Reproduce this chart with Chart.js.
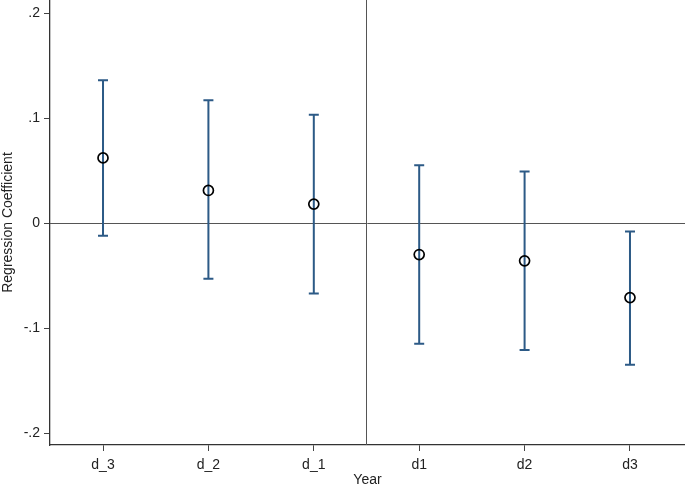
<!DOCTYPE html>
<html>
<head>
<meta charset="utf-8">
<script src="https://cdn.jsdelivr.net/npm/chart.js@4"></script>
<style>
  html, body { margin: 0; padding: 0; background: #fff; }
  canvas { display: block; }
</style>
</head>
<body>
<canvas id="coefplot" width="685" height="487"></canvas>
<script>
// event-time labels and estimates
const periods = ['d_3', 'd_2', 'd_1', 'd1', 'd2', 'd3'];
const coef = [0.062, 0.031, 0.018, -0.030, -0.036, -0.071];
const ciLow = [-0.012, -0.053, -0.067, -0.115, -0.121, -0.135];
const ciHigh = [0.136, 0.117, 0.103, 0.055, 0.049, -0.008];
const yTicks = [-0.2, -0.1, 0, 0.1, 0.2];

const barColor = '#2c5a86';

const fmtY = (v) => {
  if (Math.abs(v) < 1e-9) return '0';
  return (v < 0 ? '-' : '') + String(Math.abs(v)).replace(/^0/, '');
};

// whiskers + the two reference lines, drawn via the chart's scales
const refLines = {
  id: 'refLines',
  beforeDatasetsDraw(chart) {
    const { ctx, chartArea: a, scales: { x, y } } = chart;
    ctx.save();
    ctx.strokeStyle = '#555';
    ctx.lineWidth = 1;
    const y0 = Math.round(y.getPixelForValue(0)) + 0.5;
    ctx.beginPath();
    ctx.moveTo(a.left, y0);
    ctx.lineTo(a.right, y0);
    const xv = Math.round(x.getPixelForValue(3.5)) + 0.5;
    ctx.moveTo(xv, a.top);
    ctx.lineTo(xv, a.bottom);
    ctx.stroke();

    ctx.strokeStyle = barColor;
    ctx.lineWidth = 2;
    periods.forEach((p, i) => {
      const px = x.getPixelForValue(i + 1);
      const lo = y.getPixelForValue(ciLow[i]);
      const hi = y.getPixelForValue(ciHigh[i]);
      ctx.beginPath();
      ctx.moveTo(px, lo);
      ctx.lineTo(px, hi);
      ctx.moveTo(px - 5, lo);
      ctx.lineTo(px + 5, lo);
      ctx.moveTo(px - 5, hi);
      ctx.lineTo(px + 5, hi);
      ctx.stroke();
    });
    ctx.restore();
  }
};

const canvas = document.getElementById('coefplot');
const ctx = canvas.getContext('2d');

new Chart(ctx, {
  type: 'scatter',
  plugins: [refLines],
  data: {
    datasets: [{
      label: 'coef',
      data: coef.map((v, i) => ({ x: i + 1, y: v })),
      pointStyle: 'circle',
      pointRadius: 5,
      pointHoverRadius: 5,
      borderColor: '#000',
      borderWidth: 1.7,
      backgroundColor: 'rgba(0,0,0,0)'
    }]
  },
  options: {
    responsive: false,
    animation: false,
    maintainAspectRatio: false,
    layout: { autoPadding: false, padding: { top: 0, right: 0, left: 0, bottom: 0 } },
    plugins: {
      legend: { display: false },
      tooltip: { enabled: false }
    },
    scales: {
      x: {
        type: 'linear',
        min: 0.497,
        max: 6.522,
        afterBuildTicks: (s) => { s.ticks = periods.map((p, i) => ({ value: i + 1 })); },
        afterFit: (s) => { s.height = 42; s.paddingLeft = 0; s.paddingRight = 0; },
        ticks: {
          callback: (v) => periods[v - 1],
          color: '#222',
          font: { family: 'Liberation Sans', size: 14 },
          padding: 6,
          maxRotation: 0
        },
        grid: { drawOnChartArea: false, tickLength: 6, color: '#444', tickColor: '#444' },
        border: { color: '#333', width: 1.3 },
        title: {
          display: true,
          text: 'Year',
          color: '#222',
          font: { family: 'Liberation Sans', size: 14 },
          padding: { top: 0, bottom: -2 }
        }
      },
      y: {
        min: -0.2114,
        max: 0.2124,
        afterBuildTicks: (s) => { s.ticks = yTicks.map((v) => ({ value: v })); },
        afterFit: (s) => { s.width = 50; s.paddingTop = 0; s.paddingBottom = 0; },
        ticks: {
          callback: (v) => fmtY(v),
          color: '#222',
          font: { family: 'Liberation Sans', size: 14 },
          padding: 4
        },
        grid: { drawOnChartArea: false, tickLength: 6, color: '#444', tickColor: '#444' },
        border: { color: '#333', width: 1.3 },
        title: {
          display: true,
          text: 'Regression Coefficient',
          color: '#222',
          font: { family: 'Liberation Sans', size: 14 },
          padding: { top: 0, bottom: 0 }
        }
      }
    }
  }
});
</script>
</body>
</html>
